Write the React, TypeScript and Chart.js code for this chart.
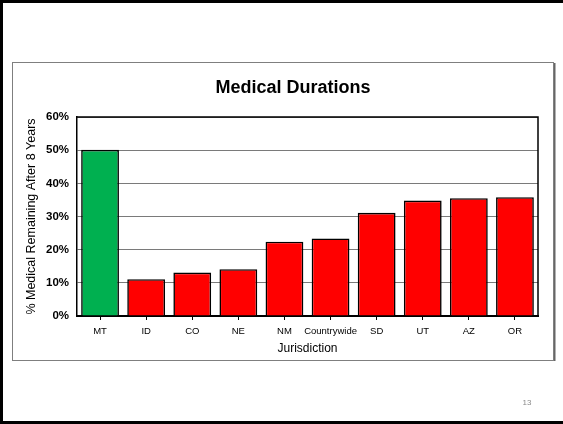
import React, { useEffect, useRef } from "react";
import { Chart, registerables } from "chart.js";

Chart.register(...registerables);

const categories = ["MT", "ID", "CO", "NE", "NM", "Countrywide", "SD", "UT", "AZ", "OR"];
const values = [50.1, 11.1, 13.1, 14.1, 22.4, 23.4, 31.1, 34.8, 35.5, 35.8];
const barColors = ["#00B050", "#FF0000", "#FF0000", "#FF0000", "#FF0000", "#FF0000", "#FF0000", "#FF0000", "#FF0000", "#FF0000"];
const yTicks = [0, 10, 20, 30, 40, 50, 60];
const chartTitle = "Medical Durations";
const yTitle = "% Medical Remaining After 8 Years";
const xTitle = "Jurisdiction";
const pageNumber = "13";

const FONT = '"Liberation Sans", Arial, sans-serif';

const slidePlugin = {
  id: "slide",
  beforeDraw(chart: any) {
    const { ctx, width, height } = chart;
    ctx.save();
    ctx.fillStyle = "#ffffff";
    ctx.fillRect(0, 0, width, height);
    ctx.fillStyle = "#000000";
    ctx.fillRect(0, 0, 3, height);
    ctx.fillRect(0, 0, width, 3);
    ctx.fillRect(0, height - 3, width, 3);
    ctx.strokeStyle = "#7f7f7f";
    ctx.lineWidth = 1;
    ctx.strokeRect(12.5, 62.5, 541, 298);
    ctx.fillStyle = "#666666";
    ctx.fillRect(554, 63, 1.5, 298);
    ctx.fillStyle = "#000000";
    ctx.font = "bold 18px " + FONT;
    ctx.textAlign = "center";
    ctx.textBaseline = "middle";
    ctx.fillText(chartTitle, 293, 88);
    ctx.fillStyle = "#8a8a8a";
    ctx.font = "8px " + FONT;
    ctx.fillText(pageNumber, 527, 403);
    ctx.restore();
  },
  afterDraw(chart: any) {
    const { ctx, chartArea } = chart;
    ctx.save();
    ctx.strokeStyle = "#000000";
    ctx.lineWidth = 1.5;
    ctx.beginPath();
    ctx.moveTo(chartArea.left, chartArea.top);
    ctx.lineTo(chartArea.right, chartArea.top);
    ctx.lineTo(chartArea.right, chartArea.bottom);
    ctx.stroke();
    ctx.restore();
  },
};

export default function App() {
  const ref = useRef<HTMLCanvasElement>(null);
  useEffect(() => {
    if (!ref.current) return;
    const chart = new Chart(ref.current, {
      type: "bar",
      data: {
        labels: categories,
        datasets: [
          {
            data: values,
            backgroundColor: barColors,
            borderColor: "#000000",
            borderWidth: 1.6,
            barPercentage: 0.82,
            categoryPercentage: 1,
          },
        ],
      },
      options: {
        animation: false,
        responsive: false,
        devicePixelRatio: 1,
        layout: { padding: { left: 24, right: 25, top: 117, bottom: 68 } },
        plugins: {
          legend: { display: false },
          title: { display: false },
          tooltip: { enabled: false },
        },
        scales: {
          x: {
            afterFit(scale: any) {
              scale.height = 40;
            },
            grid: {
              display: true,
              drawOnChartArea: false,
              drawTicks: true,
              tickLength: 4,
              color: "#000000",
              offset: false,
            },
            border: { display: true, color: "#000000", width: 2 },
            ticks: {
              color: "#000000",
              font: { family: FONT, size: 9.5 },
              padding: 6,
              maxRotation: 0,
              autoSkip: false,
            },
            title: {
              display: true,
              text: xTitle,
              color: "#000000",
              font: { family: FONT, size: 12 },
              padding: { top: 0, bottom: 0 },
            },
          },
          y: {
            min: 0,
            max: 60,
            afterFit(scale: any) {
              scale.width = 53;
            },
            afterBuildTicks(scale: any) {
              scale.ticks = yTicks.map((v) => ({ value: v }));
            },
            grid: {
              color: "#7a7a7a",
              lineWidth: 1,
              drawTicks: false,
            },
            border: { display: true, color: "#000000", width: 1.5 },
            ticks: {
              color: "#000000",
              font: { family: FONT, size: 11.5, weight: "bold" },
              padding: 8,
              callback: (v: any) => v + "%",
            },
            title: {
              display: true,
              text: yTitle,
              color: "#000000",
              font: { family: FONT, size: 12.5 },
              padding: { top: 0, bottom: 0 },
            },
          },
        },
      },
      plugins: [slidePlugin],
    });
    return () => chart.destroy();
  }, []);
  return (
    <div style={{ position: "absolute", left: 0, top: 0, width: 563, height: 424 }}>
      <canvas ref={ref} width={563} height={424} style={{ display: "block" }} />
    </div>
  );
}
